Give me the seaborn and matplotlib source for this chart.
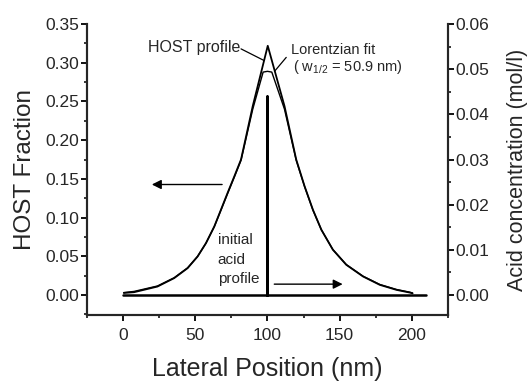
import numpy as np
import pandas as pd
import matplotlib
matplotlib.use("Agg")
import matplotlib.pyplot as plt
from matplotlib.ticker import MultipleLocator
import seaborn as sns

# ---- data ----
host_x = [0.5, 7.6, 23.8, 35.4, 44.7, 51.6, 57.4, 63.2, 67.8, 72.4, 77.1, 81.7,
          89.8, 100.2, 111.8, 119.9, 125.7, 131.5, 137.3, 145.3, 154.6, 166.2,
          177.8, 189.4, 198.6, 200.5]
host_y = [0.0025, 0.0035, 0.0108, 0.0217, 0.0346, 0.0496, 0.0669, 0.0886, 0.1102,
          0.1319, 0.1535, 0.1751, 0.2440, 0.3220, 0.2440, 0.1751, 0.1405, 0.1100,
          0.0843, 0.0584, 0.0389, 0.0238, 0.0130, 0.0065, 0.0030, 0.0020]

fit_x = [0.5, 7.6, 23.8, 35.4, 44.7, 51.6, 57.4, 63.2, 67.8, 72.4, 77.1, 81.7,
         89.8, 97.0, 100.0, 103.0, 111.8, 119.9, 125.7, 131.5, 137.3, 145.3,
         154.6, 166.2, 177.8, 189.4, 198.6, 200.5]
fit_y = [0.0030, 0.0045, 0.0115, 0.0222, 0.0350, 0.0498, 0.0668, 0.0882, 0.1095,
         0.1310, 0.1525, 0.1740, 0.2400, 0.2880, 0.2890, 0.2880, 0.2400, 0.1740,
         0.1400, 0.1095, 0.0843, 0.0586, 0.0392, 0.0242, 0.0135, 0.0070, 0.0035,
         0.0025]

acid_x = [0, 100, 100, 100, 210]
acid_y = [0.0, 0.0, 0.0440, 0.0, 0.0]

x_ticks = [0, 50, 100, 150, 200]
left_ticks = [0.00, 0.05, 0.10, 0.15, 0.20, 0.25, 0.30, 0.35]
right_ticks = [0.00, 0.01, 0.02, 0.03, 0.04, 0.05, 0.06]

sns.set_style("ticks")
plt.rcParams['font.family'] = ['Liberation Sans', 'DejaVu Sans']
plt.rcParams['mathtext.fontset'] = 'custom'
plt.rcParams['mathtext.rm'] = 'Liberation Sans'
plt.rcParams['mathtext.it'] = 'Liberation Sans'

fig = plt.figure(figsize=(5.32, 3.83), dpi=100)
ax = fig.add_axes([0.1635, 0.1775, 0.8420 - 0.1635, 0.937 - 0.1775])

host_df = pd.DataFrame({"x": host_x, "y": host_y})
fit_df = pd.DataFrame({"x": fit_x, "y": fit_y})
acid_df = pd.DataFrame({"x": acid_x, "y": acid_y})

sns.lineplot(data=host_df, x="x", y="y", ax=ax, color="black", lw=1.3,
             estimator=None, sort=False)
sns.lineplot(data=fit_df, x="x", y="y", ax=ax, color="black", lw=1.0,
             estimator=None, sort=False)

YMIN = -0.026
ax.set_xlim(-25, 225)
ax.set_ylim(YMIN, 0.35)
ax.set_xticks(x_ticks)
ax.set_xticklabels([str(v) for v in x_ticks])
ax.set_yticks(left_ticks)
ax.set_yticklabels([f"{v:.2f}" for v in left_ticks])
ax.xaxis.set_minor_locator(MultipleLocator(25))
ax.yaxis.set_minor_locator(MultipleLocator(0.025))

ax2 = ax.twinx()
sns.lineplot(data=acid_df, x="x", y="y", ax=ax2, color="black", lw=1.8,
             estimator=None, sort=False)
ax2.set_ylim(YMIN * 0.06 / 0.35, 0.06)
ax2.set_yticks(right_ticks)
ax2.set_yticklabels([f"{v:.2f}" for v in right_ticks])
ax2.yaxis.set_minor_locator(MultipleLocator(0.005))

for a in (ax, ax2):
    a.spines['top'].set_visible(False)
    for s in a.spines.values():
        s.set_linewidth(1.5)
    a.tick_params(which='major', length=4.5, width=1.3, labelsize=12.5, color='black')
    a.tick_params(which='minor', length=2.5, width=1.1, color='black')
    a.tick_params(axis='y', which='major', pad=0.8)
ax.tick_params(axis='x', which='major', pad=5)

ax.set_xlabel("Lateral Position (nm)", fontsize=18, labelpad=10)
ax.set_ylabel("HOST Fraction", fontsize=17.5, labelpad=7)
ax2.set_ylabel("Acid concentration (mol/l)", fontsize=15.5, labelpad=13)

# arrows
ax.annotate("", xy=(18, 0.1427), xytext=(70.5, 0.1427),
            arrowprops=dict(arrowstyle="-|>", color="black", lw=1.0,
                            mutation_scale=14))
ax.annotate("", xy=(154, 0.0139), xytext=(102.8, 0.0139),
            arrowprops=dict(arrowstyle="-|>", color="black", lw=1.0,
                            mutation_scale=14))

# labels
ax.text(81.3, 0.3135, "HOST profile", fontsize=11.5, ha="right", va="baseline")
ax.plot([81.7, 97.6], [0.318, 0.303], color="black", lw=0.9)
ax.text(116.5, 0.3115, "Lorentzian fit", fontsize=10.5, ha="left", va="baseline")
ax.text(117.4, 0.2893, r"( w$_{\mathregular{1/2}}$ = 50.9 nm)", fontsize=10.5,
        ha="left", va="baseline")
ax.plot([113, 104.9], [0.307, 0.289], color="black", lw=0.9)
ax.text(65.5, 0.0715, "initial", fontsize=11, ha="left", va="center")
ax.text(65.5, 0.0455, "acid", fontsize=11, ha="left", va="center")
ax.text(65.5, 0.0200, "profile", fontsize=11, ha="left", va="center")

fig.savefig("out.png", dpi=100)
